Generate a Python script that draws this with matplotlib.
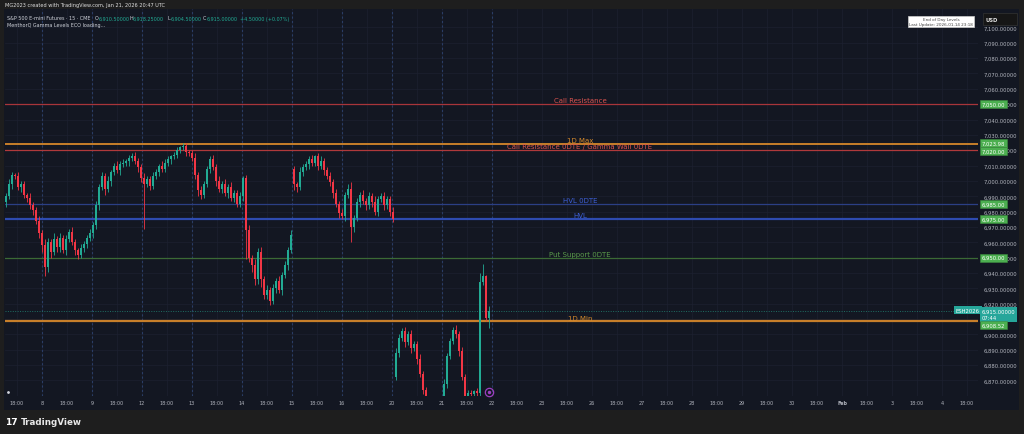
import numpy as np
from matplotlib import pyplot as plt
from matplotlib.patches import Rectangle

plt.rcParams['font.family'] = ['DejaVu Sans']

# 15-minute closes of ESH2026, one candle every 3 px (Jan 7 evening .. Jan 21)
closes = [
    6990, 6998, 7004, 7003, 6996, 6998, 6991, 6989, 6984, 6981,
    6974, 6966, 6958, 6944, 6960, 6954, 6962, 6957, 6963, 6955,
    6962, 6967, 6960, 6955, 6952, 6956, 6959, 6963, 6966, 6971,
    6984, 6996, 7003, 6995, 7000, 7006, 7010, 7007, 7011, 7012,
    7013, 7015, 7016, 7013, 7009, 7002, 6998, 7001, 6997, 7003,
    7006, 7010, 7008, 7012, 7014, 7016, 7017, 7020, 7022, 7023,
    7019, 7018, 7015, 7004, 6994, 6991, 6998, 7008, 7014, 7009,
    7000, 6995, 6998, 6992, 6996, 6989, 6992, 6985, 6990, 7002,
    6968, 6950, 6945, 6936, 6954, 6936, 6926, 6929, 6922, 6930,
    6935, 6929, 6939, 6945, 6955, 6965, 6998, 6996, 7006, 7009,
    7011, 7014, 7012, 7016, 7010, 7013, 7007, 7003, 6999, 6992,
    6985, 6979, 6977, 6991, 6995, 6970, 6976, 6986, 6991, 6987,
    6984, 6990, 6986, 6980, 6988, 6990, 6984, 6988, 6980, 6975,
    6888, 6898, 6902, 6895, 6900, 6891, 6894, 6884, 6874, 6864,
    6856, 6850, 6846, 6849, 6853, 6858, 6868, 6886, 6896, 6903,
    6900, 6889, 6872, 6860, 6862, 6861, 6863, 6862, 6934, 6938,
    6910.5, 6915,
]
# session gaps: open differs from previous close
gap_opens = {96: 7008, 130: 6872}
wick_up = [
    2, 3, 2, 1, 3, 2, 2, 1, 3, 2,
    2, 3, 2, 4, 3, 2, 4, 2, 3, 2,
    3, 2, 3, 2, 1, 3, 2, 2, 3, 2,
    3, 2, 3, 2, 3, 1, 2, 3, 2, 2,
    1, 2, 2, 3, 2, 2, 3, 2, 2, 3,
    2, 1, 3, 2, 2, 1, 2, 2, 1, 2,
    2, 1, 2, 3, 2, 3, 2, 2, 2, 3,
    2, 3, 2, 3, 2, 3, 2, 2, 3, 1,
    2, 3, 2, 4, 2, 3, 2, 3, 2, 3,
    2, 3, 2, 3, 2, 3, 2, 1, 3, 2,
    2, 2, 3, 1, 2, 3, 2, 2, 3, 2,
    3, 2, 3, 2, 3, 4, 2, 3, 2, 3,
    2, 3, 2, 4, 2, 2, 3, 2, 2, 3,
    3, 2, 2, 3, 2, 3, 2, 2, 3, 2,
    2, 2, 2, 2, 2, 2, 3, 2, 2, 2,
    3, 2, 3, 2, 2, 2, 1, 2, 6, 8,
    1, 3.25,
]
wick_dn = [
    3, 2, 3, 2, 2, 3, 2, 3, 2, 3,
    2, 3, 4, 6, 3, 4, 2, 3, 3, 2,
    3, 2, 2, 3, 3, 2, 2, 3, 2, 3,
    2, 3, 2, 4, 2, 3, 2, 2, 3, 2,
    2, 3, 2, 2, 3, 3, 29, 2, 3, 2,
    2, 3, 2, 2, 2, 3, 2, 2, 2, 2,
    3, 2, 2, 3, 4, 3, 2, 2, 3, 2,
    3, 2, 3, 2, 3, 2, 3, 2, 2, 3,
    19, 3, 4, 4, 3, 5, 3, 3, 3, 2,
    3, 2, 3, 2, 3, 2, 4, 3, 2, 3,
    2, 3, 2, 2, 3, 2, 3, 2, 2, 3,
    2, 3, 2, 3, 2, 10, 3, 2, 3, 2,
    3, 2, 3, 2, 3, 2, 3, 2, 3, 2,
    2, 3, 2, 3, 2, 3, 2, 3, 2, 3,
    2, 2, 2, 2, 2, 2, 2, 3, 2, 2,
    2, 3, 2, 2, 2, 2, 2, 2, 2, 2,
    2, 6,
]

# MenthorQ levels
level_names = ['Call Resistance', '1D Max', 'Call Resistance 0DTE / Gamma Wall 0DTE',
               'HVL 0DTE', 'HVL', 'Put Support 0DTE', '1D Min']
level_values = [7050.00, 7023.98, 7020.00, 6985.00, 6975.00, 6950.00, 6908.52]
level_text_colors = ['#d9534f', '#d68a2c', '#d9534f', '#3d5fd6', '#3d5fd6', '#5a9a4a', '#d68a2c']
level_line_colors = ['#a8353a', '#c77f2a', '#b0393b', '#2b3f85', '#2e4bb0', '#3b6a35', '#c77f2a']
level_widths = [0.9, 1.4, 0.9, 0.9, 1.6, 0.9, 1.6]
# vertical nudge (px) of the price-scale boxes so they do not sit on each other
level_box_shift = [0, 1, -1, 0, 0, 0, -4]
last_price = 6915.0

day_labels = ['8', '9', '12', '13', '14', '15', '16', '20', '21', '22', '23',
              '26', '27', '28', '29', '30', 'Feb', '3', '4']
price_ticks = list(range(6870, 7101, 10))

W, H = 1024, 435
def fx(px):
    return px / W
def fy(py):
    return 1 - py / H

fig = plt.figure(figsize=(10.24, 4.35), dpi=100)
fig.patch.set_facecolor('#1e1e1e')
# chart pane background (incl. price and time scale)
fig.add_artist(Rectangle((fx(4), fy(411)), fx(1019) - fx(4), fy(10) - fy(411),
                         transform=fig.transFigure, fc='#131722', ec='none', zorder=-2))

ax = fig.add_axes([fx(5), fy(397), fx(978) - fx(5), fy(10) - fy(397)])
ax.set_facecolor('#131722')
for s in ax.spines.values():
    s.set_visible(False)
ax.set_xlim(-0.74, 18.72)
ax.set_ylim(6859.9, 7112)

# time scale: day index, 18:00 half a day before each session label
tick_pos, tick_lbl = [], []
for k, d in enumerate(day_labels):
    tick_pos += [k - 0.5, k]
    tick_lbl += ['18:00', d]
tick_pos.append(len(day_labels) - 0.5)
tick_lbl.append('18:00')
ax.set_xticks(tick_pos)
ax.set_xticklabels(tick_lbl)
for lbl in ax.get_xticklabels():
    if lbl.get_text() == 'Feb':
        lbl.set_fontweight('bold')
        lbl.set_color('#d1d4dc')
ax.tick_params(axis='x', length=0, pad=3.2, labelsize=3.5, labelcolor='#b2b5be')

ax.yaxis.tick_right()
ax.set_yticks(price_ticks)
ax.set_yticklabels([f'{v:,.5f}' for v in price_ticks])
ax.tick_params(axis='y', length=0, pad=4.3, labelsize=3.8, labelcolor='#b2b5be')
ax.grid(True, color='#1c2130', lw=0.5)
ax.set_axisbelow(True)

# session breaks
for k in range(10):
    ax.axvline(k, color='#2a3d66', ls=(0, (2, 2)), lw=0.8, zorder=1)

# candles
n = len(closes)
t = -0.72 + 0.06 * np.arange(n)
c = np.array(closes, dtype=float)
o = np.r_[c[0] - 4, c[:-1]]
for i, v in gap_opens.items():
    o[i] = v
hi = np.maximum(o, c) + np.array(wick_up)
lo = np.minimum(o, c) - np.array(wick_dn)
col = np.where(c >= o, '#22ab94', '#f23645')
ax.vlines(t, lo, hi, colors=col, lw=0.6, zorder=3)
ax.bar(t, np.maximum(np.abs(c - o), 0.5), bottom=np.minimum(o, c), width=0.04,
       color=col, lw=0, zorder=3)

# levels
for name, v, tc, lc, lw, sh in zip(level_names, level_values, level_text_colors,
                                   level_line_colors, level_widths, level_box_shift):
    ax.axhline(v, color=lc, lw=lw, zorder=2)
    ax.annotate(name, (10.76, v), xytext=(0, 0.6), textcoords='offset points',
                ha='center', va='bottom', fontsize=5, color=tc, zorder=4)
    ax.annotate(f'{v:,.2f}', xy=(1, v), xycoords=('axes fraction', 'data'),
                xytext=(4, sh), textcoords='offset pixels', ha='left', va='center',
                fontsize=3.8, color='white', annotation_clip=False, zorder=8,
                bbox=dict(boxstyle='square,pad=0.3', fc='#4caf50', ec='#3d8b40', lw=0.4))

ax.axhline(last_price, color='#1f6e63', ls=(0, (1, 1.5)), lw=0.7, zorder=2)
ax.annotate(f'{last_price:,.5f}\n07:44', xy=(1, last_price), xycoords=('axes fraction', 'data'),
            xytext=(4, -3), textcoords='offset pixels', ha='left', va='center',
            fontsize=3.8, color='white', linespacing=1.3, annotation_clip=False, zorder=7,
            bbox=dict(boxstyle='square,pad=0.35', fc='#26a69a', ec='none'))
ax.annotate('ESH2026', xy=(1, last_price), xycoords=('axes fraction', 'data'),
            xytext=(2, 1), textcoords='offset pixels', ha='right', va='center',
            fontsize=3.8, color='white', annotation_clip=False, zorder=7,
            bbox=dict(boxstyle='square,pad=0.3', fc='#26a69a', ec='none'))

# small markers at the bottom
ax.plot(t[-1], 6862.7, marker='o', ms=6, mfc='none', mec='#9c3fc0', mew=0.9,
        clip_on=False, zorder=5)
ax.plot(t[-1], 6862.7, marker='o', ms=1.5, color='#9c3fc0', clip_on=False, zorder=5)
ax.plot(-0.68, 6862.5, marker='o', ms=1, color='#d1d4dc', clip_on=False, zorder=5)

# header
fig.text(fx(5), fy(5), 'MG2023 created with TradingView.com, Jan 21, 2026 20:47 UTC',
         fontsize=3.6, color='#e0e0e0', va='center')
fig.text(fx(7), fy(19), 'S&P 500 E-mini Futures · 15 · CME', fontsize=3.5,
         color='#d1d4dc', va='center')
for px, letter, val in [(95, 'O', '6,910.50000'), (129, 'H', '6,918.25000'),
                        (167, 'L', '6,904.50000'), (203, 'C', '6,915.00000')]:
    fig.text(fx(px), fy(19), letter, fontsize=3.5, color='#d1d4dc', va='center')
    fig.text(fx(px + 3.5), fy(19), val, fontsize=3.5, color='#22ab94', va='center')
fig.text(fx(240), fy(19), '+4.50000 (+0.07%)', fontsize=3.5, color='#22ab94', va='center')
fig.text(fx(7), fy(26), 'MenthorQ Gamma Levels ECO loading...', fontsize=3.5,
         color='#d1d4dc', va='center')

fig.text(fx(941), fy(22.5), 'End of Day Levels\nLast Update: 2026-01-14 23:18',
         ha='center', va='center', fontsize=3, color='#444444', linespacing=1.15,
         bbox=dict(boxstyle='square,pad=0.35', fc='white', ec='#cccccc', lw=0.5))

fig.add_artist(Rectangle((fx(983), fy(26)), fx(1017) - fx(983), fy(14) - fy(26),
                         transform=fig.transFigure, fc='#161616', ec='#333333', lw=0.5))
fig.text(fx(986), fy(20), 'USD', fontsize=3.8, color='#e0e0e0', weight='bold', va='center')

# footer
fig.text(fx(5), fy(422.5), '17', fontsize=6.5, color='white', weight='heavy', va='center')
fig.text(fx(21), fy(422.5), 'TradingView', fontsize=6.3, color='#e8e8e8', weight='bold',
         va='center')

fig.savefig('out.png', dpi=100, facecolor=fig.get_facecolor())
